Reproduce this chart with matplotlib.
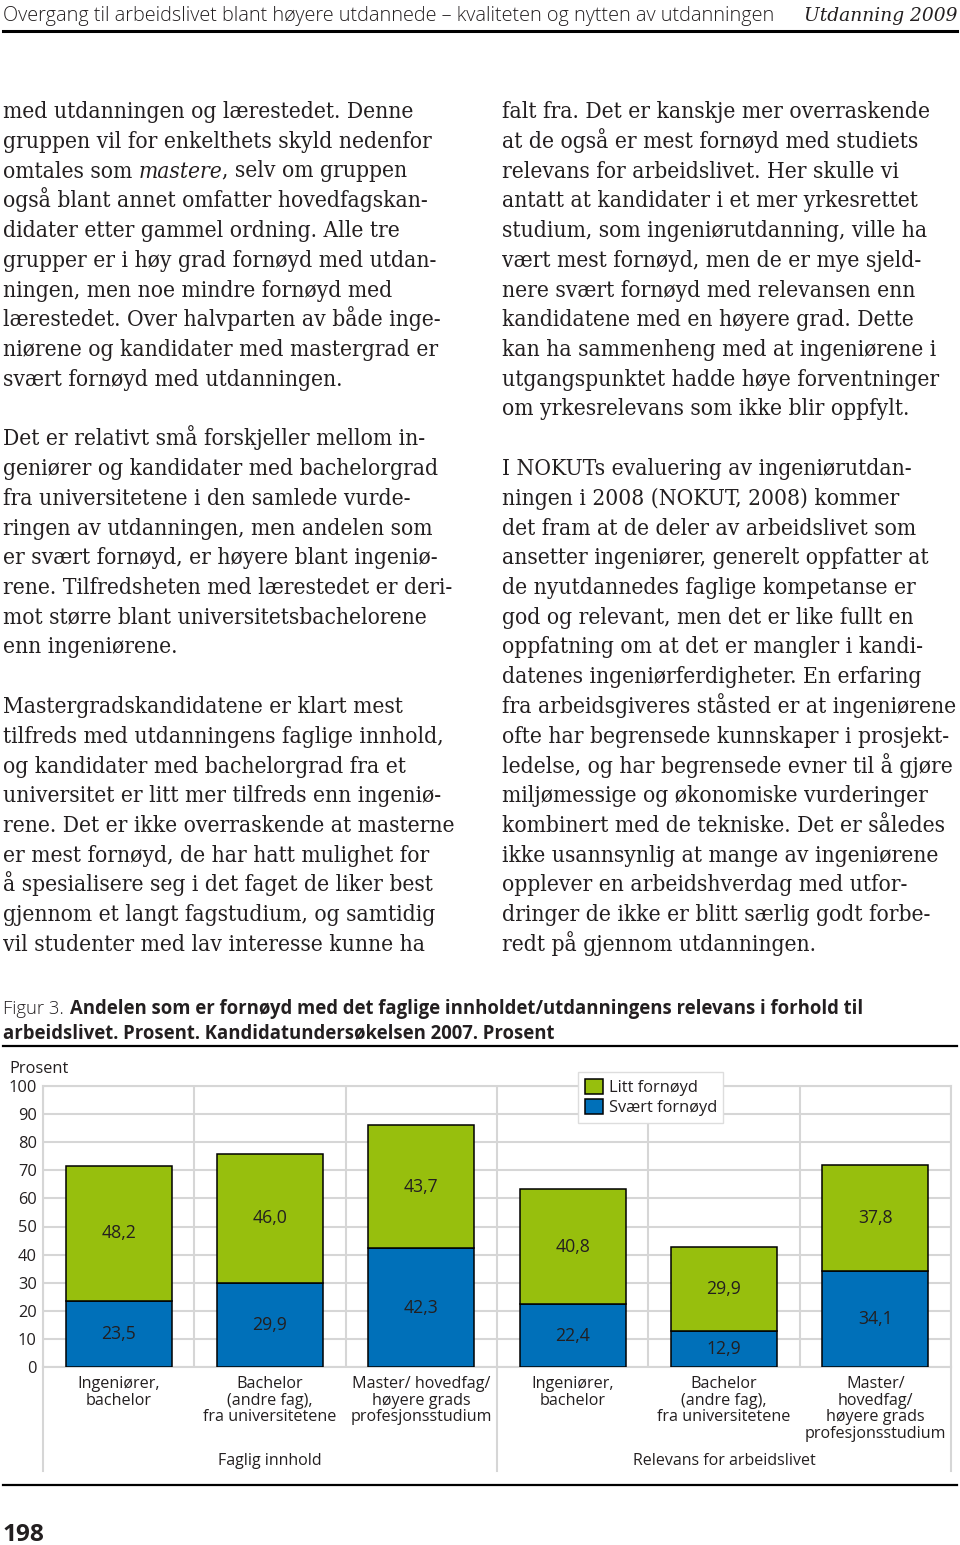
import matplotlib
matplotlib.use("Agg")
import matplotlib.pyplot as plt
from matplotlib.lines import Line2D

W, H = 960, 1545

# ---------- DATA ----------
GROUPS = ["Faglig innhold", "Relevans for arbeidslivet"]
CATEGORIES = [
    "Ingeniører,\nbachelor",
    "Bachelor\n(andre fag),\nfra universitetene",
    "Master/ hovedfag/\nhøyere grads\nprofesjonsstudium",
    "Ingeniører,\nbachelor",
    "Bachelor\n(andre fag),\nfra universitetene",
    "Master/\nhovedfag/\nhøyere grads\nprofesjonsstudium",
]
SVAERT_FORNOYD = [23.5, 29.9, 42.3, 22.4, 12.9, 34.1]
LITT_FORNOYD = [48.2, 46.0, 43.7, 40.8, 29.9, 37.8]
SERIES_NAMES = ["Litt fornøyd", "Svært fornøyd"]
Y_TICKS = [0, 10, 20, 30, 40, 50, 60, 70, 80, 90, 100]
Y_LABEL = "Prosent"

HEADER_LEFT = "Overgang til arbeidslivet blant høyere utdannede – kvaliteten og nytten av utdanningen"
HEADER_RIGHT = "Utdanning 2009"
FIG_NO = "Figur 3."
CAPTION = [
    "Andelen som er fornøyd med det faglige innholdet/utdanningens relevans i forhold til",
    "arbeidslivet. Prosent. Kandidatundersøkelsen 2007. Prosent",
]
PAGE_NUMBER = "198"

# "_" marks italic
LEFT_COLUMN = [
    "med utdanningen og lærestedet. Denne",
    "gruppen vil for enkelthets skyld nedenfor",
    "omtales som _mastere_, selv om gruppen",
    "også blant annet omfatter hovedfagskan-",
    "didater etter gammel ordning. Alle tre",
    "grupper er i høy grad fornøyd med utdan-",
    "ningen, men noe mindre fornøyd med",
    "lærestedet. Over halvparten av både inge-",
    "niørene og kandidater med mastergrad er",
    "svært fornøyd med utdanningen.",
    "",
    "Det er relativt små forskjeller mellom in-",
    "geniører og kandidater med bachelorgrad",
    "fra universitetene i den samlede vurde-",
    "ringen av utdanningen, men andelen som",
    "er svært fornøyd, er høyere blant ingeniø-",
    "rene. Tilfredsheten med lærestedet er deri-",
    "mot større blant universitetsbachelorene",
    "enn ingeniørene.",
    "",
    "Mastergradskandidatene er klart mest",
    "tilfreds med utdanningens faglige innhold,",
    "og kandidater med bachelorgrad fra et",
    "universitet er litt mer tilfreds enn ingeniø-",
    "rene. Det er ikke overraskende at masterne",
    "er mest fornøyd, de har hatt mulighet for",
    "å spesialisere seg i det faget de liker best",
    "gjennom et langt fagstudium, og samtidig",
    "vil studenter med lav interesse kunne ha",
]
RIGHT_COLUMN = [
    "falt fra. Det er kanskje mer overraskende",
    "at de også er mest fornøyd med studiets",
    "relevans for arbeidslivet. Her skulle vi",
    "antatt at kandidater i et mer yrkesrettet",
    "studium, som ingeniørutdanning, ville ha",
    "vært mest fornøyd, men de er mye sjeld-",
    "nere svært fornøyd med relevansen enn",
    "kandidatene med en høyere grad. Dette",
    "kan ha sammenheng med at ingeniørene i",
    "utgangspunktet hadde høye forventninger",
    "om yrkesrelevans som ikke blir oppfylt.",
    "",
    "I NOKUTs evaluering av ingeniørutdan-",
    "ningen i 2008 (NOKUT, 2008) kommer",
    "det fram at de deler av arbeidslivet som",
    "ansetter ingeniører, generelt oppfatter at",
    "de nyutdannedes faglige kompetanse er",
    "god og relevant, men det er like fullt en",
    "oppfatning om at det er mangler i kandi-",
    "datenes ingeniørferdigheter. En erfaring",
    "fra arbeidsgiveres ståsted er at ingeniørene",
    "ofte har begrensede kunnskaper i prosjekt-",
    "ledelse, og har begrensede evner til å gjøre",
    "miljømessige og økonomiske vurderinger",
    "kombinert med de tekniske. Det er således",
    "ikke usannsynlig at mange av ingeniørene",
    "opplever en arbeidshverdag med utfor-",
    "dringer de ikke er blitt særlig godt forbe-",
    "redt på gjennom utdanningen.",
]

# ---------- STYLE ----------
GREEN = "#97bf0d"
BLUE = "#0070b9"
GRID = "#d6d6d6"
INK = "#231f20"
SANS = "Open Sans"
SERIF = "DejaVu Serif"

fig = plt.figure(figsize=(W / 100, H / 100), dpi=100)
renderer = fig.canvas.get_renderer()


def fy(y):
    return 1 - y / H


def width_of(s, size, **kw):
    t = fig.text(0, 0, s, fontsize=size, **kw)
    w = t.get_window_extent(renderer=renderer).width
    t.remove()
    return w


def fit(sample, width, **kw):
    # font size (pt) that gives the sample string the measured pixel width
    return 10 * width / width_of(sample, 10, **kw)


def hline(y, lw):
    fig.add_artist(Line2D([3 / W, 957 / W], [fy(y), fy(y)], color="black",
                          lw=lw, transform=fig.transFigure))


# ---------- PAGE HEADER ----------
kw_head = dict(family=SANS, weight="light")
s = fit(HEADER_LEFT, 770, **kw_head)
fig.text(3 / W, fy(21), HEADER_LEFT, fontsize=s, va="baseline", color=INK, **kw_head)
kw_hr = dict(family=SERIF, style="italic")
s = fit(HEADER_RIGHT, 154, **kw_hr)
fig.text(957 / W, fy(21), HEADER_RIGHT, fontsize=s, va="baseline", ha="right",
         color=INK, **kw_hr)
hline(31, 2.2)

# ---------- BODY TEXT ----------
kw_body = dict(family=SERIF, fontstretch="condensed")
body_size = fit("fra arbeidsgiveres ståsted er at ingeniørene", 454, **kw_body)
space_w = width_of("a a", body_size, **kw_body) - width_of("aa", body_size, **kw_body)


def body_line(x, y, line):
    parts = line.split("_")
    for i, part in enumerate(parts):
        if not part:
            continue
        style = "italic" if i % 2 else "normal"
        fig.text(x / W, fy(y), part, fontsize=body_size, va="baseline",
                 style=style, color=INK, **kw_body)
        stripped = part.rstrip(" ")
        x += width_of(stripped, body_size, style=style, **kw_body)
        x += space_w * (len(part) - len(stripped))


for col_x, lines in [(3, LEFT_COLUMN), (502, RIGHT_COLUMN)]:
    for i, line in enumerate(lines):
        if line:
            body_line(col_x, 118 + i * 29.75, line)

# ---------- FIGURE CAPTION ----------
kw_cap = dict(family=SANS, weight="bold")
cap_size = fit(CAPTION[1], 552, **kw_cap)
kw_no = dict(family=SANS, weight="light")
fig.text(3 / W, fy(1014), FIG_NO, fontsize=cap_size, va="baseline", color=INK, **kw_no)
no_w = width_of(FIG_NO, cap_size, **kw_no) + 6
fig.text((3 + no_w) / W, fy(1014), CAPTION[0], fontsize=cap_size, va="baseline",
         color=INK, **kw_cap)
fig.text(3 / W, fy(1038), CAPTION[1], fontsize=cap_size, va="baseline", color=INK, **kw_cap)
hline(1046, 1.6)

# ---------- CHART ----------
kw_c = dict(family=SANS, weight="normal")
tick_size = fit("100", 27, **kw_c) * 1.05
val_size = fit("48,2", 33, **kw_c) * 1.05
cat_size = fit("fra universitetene", 128, **kw_c) * 1.04
leg_size = fit("Svært fornøyd", 104, **kw_c) * 1.04
grp_size = fit("Relevans for arbeidslivet", 176, **kw_c) * 1.04

ax = fig.add_axes([43 / W, fy(1367), 908 / W, 281 / H])
x = [i + 0.5 for i in range(len(CATEGORIES))]
b1 = ax.bar(x, SVAERT_FORNOYD, width=0.7, color=BLUE, edgecolor="black",
            linewidth=1.1, zorder=3, label=SERIES_NAMES[1])
b2 = ax.bar(x, LITT_FORNOYD, width=0.7, bottom=SVAERT_FORNOYD, color=GREEN,
            edgecolor="black", linewidth=1.1, zorder=3, label=SERIES_NAMES[0])
for cont, vals in [(b1, SVAERT_FORNOYD), (b2, LITT_FORNOYD)]:
    ax.bar_label(cont, labels=[f"{v:.1f}".replace(".", ",") for v in vals],
                 label_type="center", fontsize=val_size, color=INK, **kw_c)

ax.set_xlim(0, 6)
ax.set_ylim(0, 100)
ax.set_yticks(Y_TICKS)
ax.set_yticklabels([str(v) for v in Y_TICKS], fontsize=tick_size, color=INK, **kw_c)
ax.set_xticks(x)
ax.set_xticklabels(CATEGORIES, fontsize=cat_size, color=INK, linespacing=1.05, **kw_c)
ax.set_xticks(range(7), minor=True)
ax.tick_params(axis="both", which="both", length=0)
ax.tick_params(axis="y", pad=4.5)
ax.tick_params(axis="x", pad=6.5)
ax.grid(True, which="major", axis="y", color=GRID, lw=1.5, zorder=0)
ax.grid(True, which="minor", axis="x", color=GRID, lw=1.5, zorder=0)
for sp in ax.spines.values():
    sp.set_color(GRID)
    sp.set_linewidth(1.5)
for xs in [0, 3, 6]:
    ax.plot([xs, xs], [0, -37], color=GRID, lw=1.5, clip_on=False)
ax.set_axisbelow(True)

ax.text(-0.22, 103.3, Y_LABEL, fontsize=tick_size, color=INK, va="bottom", ha="left",
        transform=ax.transData, **kw_c)
for gi, g in enumerate(GROUPS):
    ax.text(1.5 + 3 * gi, -33.5, g, fontsize=grp_size, color=INK, ha="center",
            va="center", **kw_c)

leg_px = leg_size * 100 / 72
leg = ax.legend(handles=[b2, b1], labels=SERIES_NAMES, loc="upper left",
                bbox_to_anchor=((578 - 43) / 908, (1367 - 1072) / 281),
                prop=dict(family=SANS, weight="normal", size=leg_size),
                frameon=True, fancybox=False, framealpha=1, edgecolor="#dddddd",
                handlelength=18 / leg_px, handleheight=17 / leg_px,
                handletextpad=6 / leg_px, labelspacing=0.2, borderpad=0.4,
                borderaxespad=0)
leg.get_frame().set_linewidth(1)
for t in leg.get_texts():
    t.set_color(INK)

# ---------- FOOTER ----------
hline(1485, 1.6)
kw_pg = dict(family=SANS, weight="bold")
fig.text(3 / W, fy(1541), PAGE_NUMBER, fontsize=fit(PAGE_NUMBER, 42, **kw_pg),
         va="baseline", color=INK, **kw_pg)

fig.savefig("out.png", dpi=100)
